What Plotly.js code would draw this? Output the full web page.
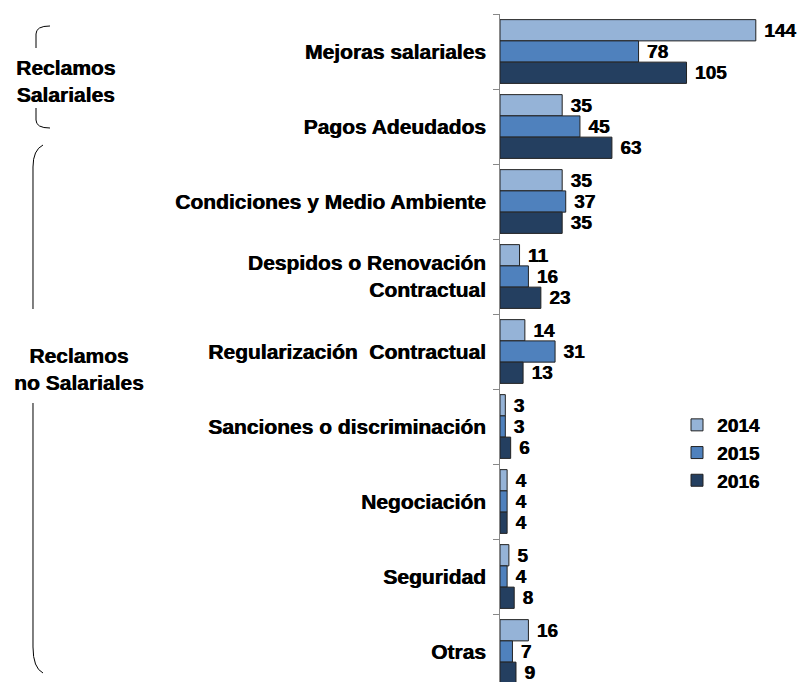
<!DOCTYPE html>
<html>
<head>
<meta charset="utf-8">
<script src="https://cdn.plot.ly/plotly-3.0.1.min.js"></script>
<style>
  body { margin: 0; background: #fff; }
  #graphique { width: 802px; height: 682px; }
</style>
</head>
<body>
<div id="graphique"></div>
<script>
// Données
let categories = [
    "Mejoras salariales",
    "Pagos Adeudados",
    "Condiciones y Medio Ambiente",
    "Despidos o Renovación<br>Contractual",
    "Regularización\u00a0 Contractual",
    "Sanciones o discriminación",
    "Negociación",
    "Seguridad",
    "Otras"
]
let annees = ["2014", "2015", "2016"]
let valeurs_2014 = [144, 35, 35, 11, 14, 3, 4, 5, 16]
let valeurs_2015 = [78, 45, 37, 16, 31, 3, 4, 4, 7]
let valeurs_2016 = [105, 63, 35, 23, 13, 6, 4, 8, 9]
let couleurs = ["#95B3D7", "#4F81BD", "#243F60"]

// Géométrie en pixels de la zone de tracé
let largeur = 802, hauteur = 682
let marge_g = 500, marge_h = 14

/**
 * Convertit des coordonnées pixel en coordonnées "paper"
 */
function px(x) { return (x - marge_g) / (largeur - marge_g) }
function py(y) { return (hauteur - y) / (hauteur - marge_h) }

/**
 * Construit un chemin SVG en coordonnées paper à partir d'une liste de commandes en pixels
 */
function chemin(cmds) {
    return cmds.map(function (c) {
        let s = c[0]
        for (let i = 1; i < c.length; i = i + 2) {
            s += " " + px(c[i]).toFixed(5) + "," + py(c[i + 1]).toFixed(5)
        }
        return s
    }).join(" ")
}

// Police en gras, un peu épaissie par une ombre pour se rapprocher de l'Arial Black du modèle
function police(taille) {
    return {family: "Liberation Sans, Arial, sans-serif", size: taille, color: "#000",
            weight: "bold", shadow: "0.6px 0 0 #000"}
}

let series = [valeurs_2014, valeurs_2015, valeurs_2016]
let donnee = series.map(function (vals, i) {
    return {
        type: "bar",
        orientation: "h",
        name: annees[i],
        y: categories,
        x: vals,
        text: vals.map(String),
        texttemplate: "\u00a0%{text}",
        textposition: "outside",
        constraintext: "none",
        cliponaxis: false,
        textfont: police(19),
        marker: {color: couleurs[i], line: {color: "#222", width: 1}},
        hoverinfo: "skip"
    }
})

let trait = {color: "#000", width: 1}

let apparence = {
    width: largeur,
    height: hauteur,
    margin: {l: marge_g, r: 0, t: marge_h, b: 0},
    paper_bgcolor: "#fff",
    plot_bgcolor: "#fff",
    barmode: "group",
    bargap: 0.15,
    bargroupgap: 0,
    showlegend: true,
    legend: {
        x: px(677), y: py(406), xanchor: "left", yanchor: "top",
        traceorder: "normal",
        font: police(19),
        bgcolor: "rgba(0,0,0,0)"
    },
    xaxis: {
        range: [0, 170],
        visible: false,
        fixedrange: true
    },
    yaxis: {
        type: "category",
        range: [8 + (hauteur - marge_h) / 75 - 8.5, -0.5],
        showline: true,
        linecolor: "#888",
        linewidth: 1,
        ticks: "outside",
        ticklen: 6,
        tickcolor: "#888",
        tickson: "boundaries",
        ticklabelstandoff: 9,
        showgrid: false,
        zeroline: false,
        tickfont: police(21),
        fixedrange: true
    },
    shapes: [
        {type: "path", xref: "paper", yref: "paper", line: trait,
         path: chemin([["M", 50, 26], ["Q", 36, 26, 36, 34], ["L", 36, 48]])},
        {type: "path", xref: "paper", yref: "paper", line: trait,
         path: chemin([["M", 36, 108], ["L", 36, 120], ["Q", 36, 128, 50, 128]])},
        {type: "path", xref: "paper", yref: "paper", line: trait,
         path: chemin([["M", 43, 145], ["Q", 33, 150, 33, 167], ["L", 33, 309]])},
        {type: "path", xref: "paper", yref: "paper", line: trait,
         path: chemin([["M", 33, 403], ["L", 33, 647], ["Q", 33, 668, 43, 673]])}
    ],
    annotations: [
        {text: "Reclamos<br>Salariales", xref: "paper", yref: "paper",
         x: px(65), y: py(81), xanchor: "center", yanchor: "middle",
         showarrow: false, align: "center", font: police(21)},
        {text: "Reclamos<br>no Salariales", xref: "paper", yref: "paper",
         x: px(79), y: py(369), xanchor: "center", yanchor: "middle",
         showarrow: false, align: "center", font: police(21)}
    ]
}

Plotly.newPlot("graphique", donnee, apparence, {displayModeBar: false, staticPlot: true})
</script>
</body>
</html>
